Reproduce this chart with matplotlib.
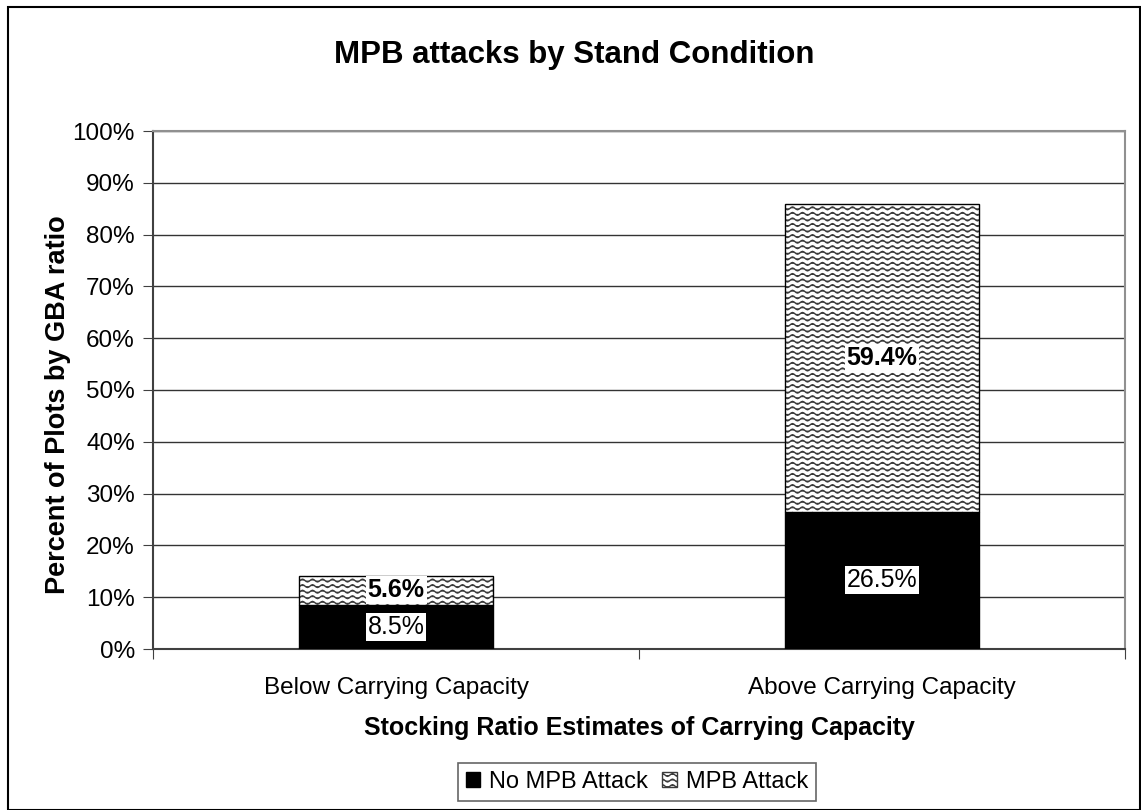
"""MPB attacks by stand condition - stacked bar chart."""

import warnings
import numpy as np
import matplotlib
matplotlib.use('Agg')
import matplotlib.pyplot as plt
from matplotlib import hatch as mhatch
from matplotlib.path import Path
from matplotlib.patches import Patch, Rectangle
from matplotlib.ticker import PercentFormatter

warnings.filterwarnings('ignore')

# data
categories = ['Below Carrying Capacity', 'Above Carrying Capacity']
no_attack = [8.5, 26.5]
attack = [5.6, 59.4]
series_names = ['No MPB Attack', 'MPB Attack']


# wavy hatch like the excel pattern fill
class WaveHatch(mhatch.HatchPatternBase):
    def __init__(self, hatch, density):
        self.num_lines = int(hatch.count('~') * density)
        self.num_points = 81
        self.num_vertices = self.num_lines * self.num_points

    def set_vertices_and_codes(self, vertices, codes):
        n = self.num_points
        xs = np.linspace(0, 1, n)
        offsets = (np.arange(self.num_lines) + 0.5) / max(self.num_lines, 1)
        for i, off in enumerate(offsets):
            vertices[i * n:(i + 1) * n, 0] = xs
            vertices[i * n:(i + 1) * n, 1] = off + 0.014 * np.sin(2 * np.pi * 10 * xs)
            codes[i * n] = Path.MOVETO
            codes[i * n + 1:(i + 1) * n] = Path.LINETO


mhatch._hatch_types.append(WaveHatch)

plt.rcParams['font.family'] = ['Liberation Sans', 'DejaVu Sans']
plt.rcParams['hatch.linewidth'] = 1.0

fig = plt.figure(figsize=(11.41, 8.10), dpi=100)
ax = fig.add_axes([153 / 1141, 161 / 810, 972 / 1141, 518 / 810])

x = np.arange(len(categories)) + 0.5
width = 0.4
bottoms = np.array(no_attack)

ax.bar(x, no_attack, width, color='black', edgecolor='black', linewidth=1, zorder=3)
ax.bar(x, attack, width, bottom=bottoms, color='white', edgecolor='#3a3a3a',
       linewidth=0, hatch='~~~', zorder=3)
ax.bar(x, attack, width, bottom=bottoms, fill=False, edgecolor='black',
       linewidth=1, zorder=4)

# data labels
for xi, a, b in zip(x, no_attack, attack):
    ax.text(xi, a / 2, f'{a}%', ha='center', va='center', fontsize=18, zorder=5,
            bbox=dict(facecolor='white', edgecolor='none', pad=1.5))
    ax.text(xi, a + b / 2, f'{b}%', ha='center', va='center', fontsize=18,
            fontweight='bold', zorder=5,
            bbox=dict(facecolor='white', edgecolor='none', pad=1.5))

ax.set_xlim(0, 2)
ax.set_ylim(0, 100)
ax.set_yticks(np.arange(0, 101, 10))
ax.yaxis.set_major_formatter(PercentFormatter(decimals=0))
ax.set_xticks([0, 1, 2])
ax.set_xticklabels([])
ax.set_xticks(x, minor=True)
ax.set_xticklabels(categories, minor=True)
ax.tick_params(axis='x', which='minor', length=0, pad=20, labelsize=17.5)
ax.tick_params(axis='x', which='major', length=7, color='#404040')
ax.tick_params(axis='y', length=7, color='#404040', labelsize=17.5, pad=6)

ax.grid(axis='y', color='#333333', linewidth=1, zorder=0)
ax.set_axisbelow(True)
for side in ['left', 'bottom']:
    ax.spines[side].set_color('#404040')
    ax.spines[side].set_linewidth(1.5)
for side in ['top', 'right']:
    ax.spines[side].set_color('#909090')
    ax.spines[side].set_linewidth(1.5)

fig.text(574 / 1141, 1 - 55 / 810, 'MPB attacks by Stand Condition', fontsize=22.5,
         fontweight='bold', ha='center', va='center')
ax.set_xlabel('Stocking Ratio Estimates of Carrying Capacity', fontsize=18,
              fontweight='bold')
ax.xaxis.set_label_coords(0.5, -(728 - 649) / 518)
ax.xaxis.label.set_verticalalignment('center')
ax.set_ylabel('Percent of Plots by GBA ratio', fontsize=19.5, fontweight='bold')
ax.yaxis.set_label_coords((58 - 153) / 972, (649 - 405) / 518)
ax.yaxis.label.set_verticalalignment('center')

handles = [Patch(facecolor='black', edgecolor='black', label=series_names[0]),
           Patch(facecolor='white', edgecolor='#3a3a3a', hatch='~~~', label=series_names[1])]
leg = fig.legend(handles=handles, loc='center', bbox_to_anchor=(637 / 1141, 1 - 782 / 810),
                 ncol=2, fontsize=17, frameon=True, fancybox=False, handlelength=0.6,
                 handleheight=0.6, handletextpad=0.4, columnspacing=0.6, borderpad=0.32)
leg.get_frame().set_edgecolor('#404040')
leg.get_frame().set_linewidth(1.2)

# outer chart border
fig.patches.append(Rectangle((8 / 1141, 0), 1 - 8 / 1141 - 0.001, 1 - 7 / 810,
                             transform=fig.transFigure, fill=False,
                             edgecolor='black', linewidth=1.5))

fig.savefig('out.png', dpi=100)
